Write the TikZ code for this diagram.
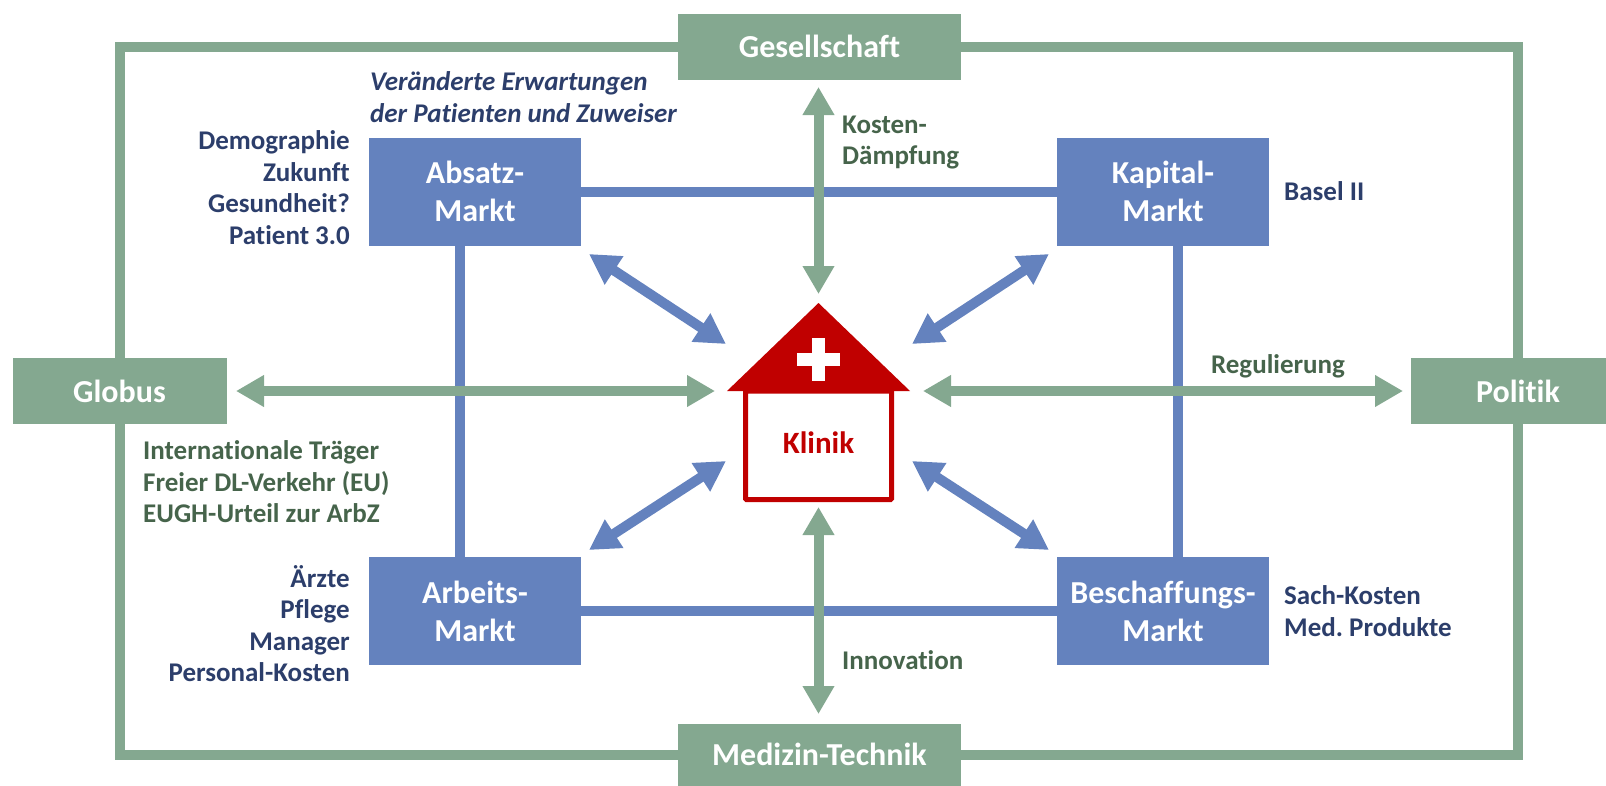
\documentclass[tikz,border=0pt]{standalone}
\usepackage{fontspec}
\setmainfont{Carlito}[Ligatures=NoCommon]
\usetikzlibrary{arrows.meta, backgrounds}
\definecolor{rahmengruen}{RGB}{132,168,144}
\definecolor{marktblau}{RGB}{100,130,190}
\definecolor{textblau}{RGB}{44,62,107}
\definecolor{textgruen}{RGB}{70,100,75}
\definecolor{klinikrot}{RGB}{192,0,0}
\frenchspacing

\begin{document}
\begin{tikzpicture}
  [
    x = 1pt, y = -1pt,
    boxtext/.style = {font = \fontsize{32}{38}\selectfont\bfseries, text = white, align = center, inner sep = 0pt},
    umfeld/.style = {boxtext, fill = rahmengruen, minimum height = 66pt},
    markt/.style = {boxtext, fill = marktblau, minimum width = 212pt, minimum height = 108pt},
    bluelabel/.style = {font = \fontsize{27}{31.5}\selectfont\bfseries, text = textblau, inner sep = 0pt},
    greenlabel/.style = {bluelabel, text = textgruen},
    rahmen/.style = {draw = rahmengruen, line width = 10pt, miter limit = 10},
    marktlinie/.style = {draw = marktblau, line width = 10pt},
    greenarrow/.style = {draw = rahmengruen, line width = 10pt,
      {Triangle[length = 28pt, width = 30pt]}-{Triangle[length = 28pt, width = 30pt]}},
    bluearrow/.style = {draw = marktblau, line width = 10pt,
      {Triangle[length = 30pt, width = 32pt]}-{Triangle[length = 30pt, width = 32pt]}}
  ]
  \useasboundingbox (0,0) rectangle (1606,785);

  % Umfeld
  \node [umfeld, minimum width = 283pt] (Gesellschaft) at (819.5,46.5) {Gesellschaft};
  \node [umfeld, minimum width = 283pt, minimum height = 62pt] (Technik) at (819.5,754.5) {Medizin-Technik};
  \node [umfeld, minimum width = 214pt] (Globus) at (119.5,391) {Globus};
  \node [umfeld, minimum width = 195pt] (Politik) at (1508.5,391) {\hspace{19pt}Politik};
  \coordinate (FrameE) at (1518,391);

  % Maerkte
  \node [markt] (Absatz) at (475,191.5) {Absatz-\\Markt};
  \node [markt] (Kapital) at (1163,191.5) {Kapital-\\Markt};
  \node [markt] (Arbeit) at (475,611) {Arbeits-\\Markt};
  \node [markt] (Beschaffung) at (1163,611) {Beschaffungs-\\Markt};

  \begin{scope}[on background layer]
    \draw [rahmen] (Gesellschaft.center) -| (FrameE) |- (Technik.center) -| (Globus.center) |- cycle;
    \draw [marktlinie] (Absatz) -- (Kapital);
    \draw [marktlinie] (Arbeit) -- (Beschaffung);
    \draw [marktlinie] ([xshift=-15pt]Absatz.south) -- ([xshift=-15pt]Arbeit.north);
    \draw [marktlinie] ([xshift=15pt]Kapital.south) -- ([xshift=15pt]Beschaffung.north);
  \end{scope}

  % Klinik
  \node [draw = klinikrot, line width = 5pt, rounded corners = 1pt, fill = white,
    minimum width = 146pt, minimum height = 108.5pt, inner sep = 0pt,
    font = \fontsize{31}{36}\selectfont\bfseries, text = klinikrot] (Klinik) at (818.5,445.25) {\raisebox{5pt}{Klinik}};
  \fill [klinikrot] (818.5,303) -- (910,391) -- (727,391) -- cycle;
  \fill [white] (812,337.5) rectangle (825,380.5);
  \fill [white] (797,352.5) rectangle (840,365.5);

  % Pfeile
  \coordinate (TopA) at (818.5,87);
  \coordinate (TopB) at (818.5,294);
  \coordinate (BottomA) at (818.5,714);
  \coordinate (BottomB) at (818.5,507);
  \coordinate (LeftA) at (236,391);
  \coordinate (LeftB) at (715,391);
  \coordinate (RightA) at (1403,391);
  \coordinate (RightB) at (923,391);
  \draw [greenarrow] (TopA) -- (TopB);
  \draw [greenarrow] (BottomA) -- (BottomB);
  \draw [greenarrow] (LeftA) -- (LeftB);
  \draw [greenarrow] (RightA) -- (RightB);

  \coordinate (NWA) at (589,254);
  \coordinate (NWB) at (726,344);
  \coordinate (NEA) at (1049,254);
  \coordinate (NEB) at (912,344);
  \coordinate (SWA) at (589,550);
  \coordinate (SWB) at (726,461);
  \coordinate (SEA) at (1049,550);
  \coordinate (SEB) at (912,461);
  \draw [bluearrow] (NWA) -- (NWB);
  \draw [bluearrow] (NEA) -- (NEB);
  \draw [bluearrow] (SWA) -- (SWB);
  \draw [bluearrow] (SEA) -- (SEB);

  % Beschriftung
  \node [bluelabel, anchor = west, align = left] (Erwartung) at (370,97)
    {\itshape Veränderte Erwartungen\\\itshape der Patienten und Zuweiser};
  \node [bluelabel, anchor = east, align = right] (Demographie) at (350,187.5)
    {Demographie\\Zukunft\\Gesundheit?\\Patient 3.0};
  \node [bluelabel, anchor = west, align = left] (Basel) at (1284,191) {Basel II};
  \node [bluelabel, anchor = east, align = right] (Personal) at (350,623.5)
    {Ärzte\\Pflege\\Manager\\Personal-Kosten};
  \node [bluelabel, anchor = west, align = left] (Sachkosten) at (1284,611)
    {Sach-Kosten\\Med. Produkte};
  \node [greenlabel, anchor = west, align = left] (Kosten) at (842,142.5)
    {Kosten-\\Dämpfung};
  \node [greenlabel, anchor = west] (Innovation) at (842,660) {Innovation};
  \node [greenlabel] (Regulierung) at (1278,366) {Regulierung};
  \node [greenlabel, anchor = west, align = left] (Traeger) at (143,482)
    {Internationale Träger\\Freier DL-Verkehr (EU)\\EUGH-Urteil zur ArbZ};
\end{tikzpicture}
\end{document}
